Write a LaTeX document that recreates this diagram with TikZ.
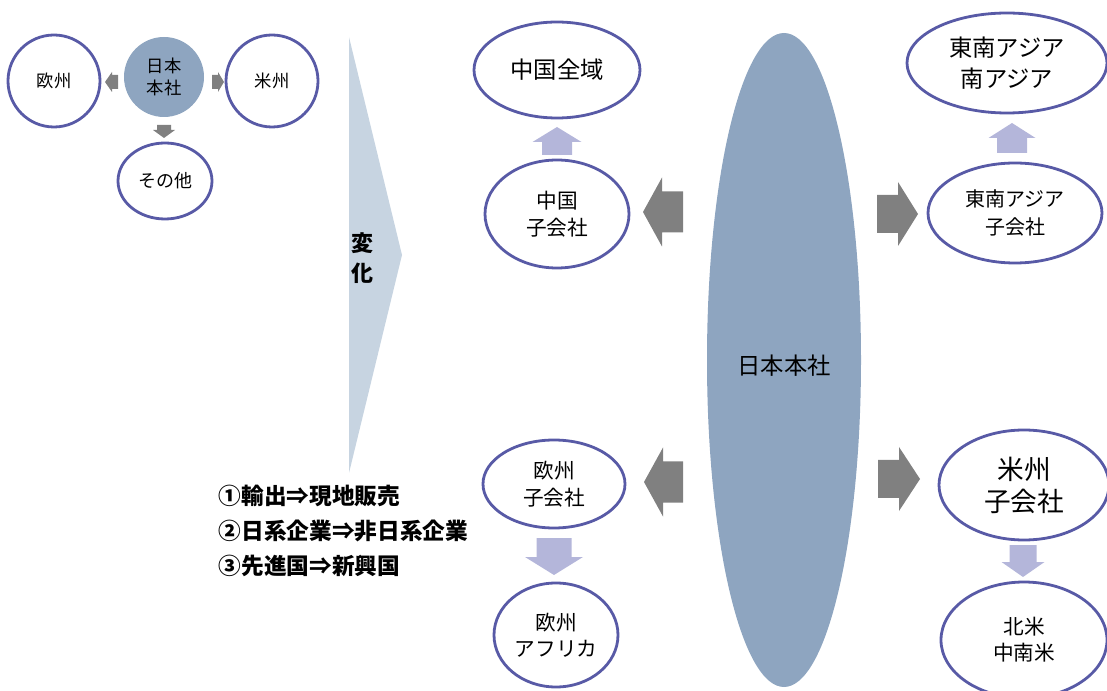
\documentclass[tikz,border=0pt]{standalone}
\usepackage{fontspec}
\newfontfamily\jp{Noto Sans CJK JP}
\usetikzlibrary{shapes.geometric}
\definecolor{rim}{RGB}{88,90,166}
\definecolor{hqfill}{RGB}{142,165,192}
\definecolor{garrow}{RGB}{128,128,128}
\definecolor{larrow}{RGB}{180,182,218}
\definecolor{chev}{RGB}{199,212,225}
\newcommand{\fs}[2]{\fontsize{#1pt}{#2pt}\selectfont}
\begin{document}
\begin{tikzpicture}[x=0.75pt,y=-0.75pt,
  region/.style={ellipse, draw=rim, line width=2.1pt, fill=white, inner sep=0pt, align=center},
  listtext/.style={anchor=west, font=\jp\bfseries\fs{17}{20}},
  pics/barrow/.style n args={5}{code={
    \fill[#5] (0,-#4) -- (#1-#2,-#4) -- (#1-#2,-#3) -- (#1,0) -- (#1-#2,#3) -- (#1-#2,#4) -- (0,#4) -- cycle;}},
]
\useasboundingbox (0,0) rectangle (1107,691);

% ---------- left small cluster ----------
\node[circle, fill=hqfill, minimum size=80*0.75pt, inner sep=0pt, align=center,
      font=\jp\fs{13}{16.5}] (hq0) at (164,77) {日本\\本社};
\node[region, minimum width=92*0.75pt, minimum height=92*0.75pt, font=\jp\fs{13}{16}] (eu0) at (54,81) {欧州};
\node[region, minimum width=92*0.75pt, minimum height=92*0.75pt, font=\jp\fs{13}{16}] (us0) at (272,81) {米州};
\node[region, minimum width=94*0.75pt, minimum height=76*0.75pt, font=\jp\fs{13.5}{16}] (oth0) at (165,181) {その他};

\pic[rotate=180] at (118,82) {barrow={13}{7}{10}{7}{garrow}};
\pic at (212,82) {barrow={12}{6}{10}{7}{garrow}};
\pic[rotate=-90] at (164,125) {barrow={13}{8}{11}{7}{garrow}};

% ---------- chevron ----------
\fill[chev] (349,37) -- (402,255) -- (349,473) -- cycle;
\node[align=center, font=\jp\bfseries\fs{16.5}{23}] (chg) at (362,258) {変\\化};

\node[listtext] (l1) at (214,496) {①輸出⇒現地販売};
\node[listtext] (l2) at (214,531) {②日系企業⇒非日系企業};
\node[listtext] (l3) at (214,566) {③先進国⇒新興国};

% ---------- big HQ ----------
\node[ellipse, fill=hqfill, minimum width=154*0.75pt, minimum height=654*0.75pt, inner sep=0pt] (hq) at (784,360) {};
\node[font=\jp\fs{17.5}{20}] (hqtext) at (784,366) {日本本社};

% ---------- right side nodes ----------
\node[region, minimum width=166*0.75pt, minimum height=96*0.75pt, font=\jp\fs{17.5}{20}] (cnall) at (557,70) {中国全域};
\node[region, minimum width=144*0.75pt, minimum height=108*0.75pt, font=\jp\fs{15.5}{20}] (cnsub) at (557,214) {中国\\子会社};
\node[region, minimum width=200*0.75pt, minimum height=100*0.75pt, font=\jp\fs{17.5}{23}] (asall) at (1007,63) {東南アジア\\南アジア};
\node[region, minimum width=174*0.75pt, minimum height=100*0.75pt, font=\jp\fs{15}{21.5}] (assub) at (1015,213) {東南アジア\\子会社};
\node[region, minimum width=142*0.75pt, minimum height=88*0.75pt, font=\jp\fs{15.5}{20}] (eusub) at (554,484) {欧州\\子会社};
\node[region, minimum width=124*0.75pt, minimum height=104*0.75pt, font=\jp\fs{15.5}{19.5}] (euaf) at (556,635) {欧州\\アフリカ};
\node[region, minimum width=170*0.75pt, minimum height=110*0.75pt, font=\jp\fs{20}{24}] (ussub) at (1024,485) {米州\\子会社};
\node[region, minimum width=166*0.75pt, minimum height=116*0.75pt, font=\jp\fs{15.5}{19.5}] (amall) at (1024,640) {北米\\中南米};

% ---------- gray arrows from HQ ----------
\pic[rotate=180] at (683,212) {barrow={40}{19}{34.5}{20.5}{garrow}};
\pic at (877,214) {barrow={41}{20}{32}{19}{garrow}};
\pic[rotate=180] at (683,482) {barrow={39}{19}{34.5}{20.5}{garrow}};
\pic at (878,479) {barrow={42}{21}{32}{19}{garrow}};

% ---------- light arrows ----------
\pic[rotate=90] at (557,155) {barrow={28}{15}{24.5}{15}{larrow}};
\pic[rotate=90] at (1012,153) {barrow={30}{15}{23.5}{15}{larrow}};
\pic[rotate=-90] at (554,538) {barrow={37}{18}{29}{17.5}{larrow}};
\pic[rotate=-90] at (1023,545) {barrow={32}{15}{21.5}{13.5}{larrow}};
\end{tikzpicture}
\end{document}
